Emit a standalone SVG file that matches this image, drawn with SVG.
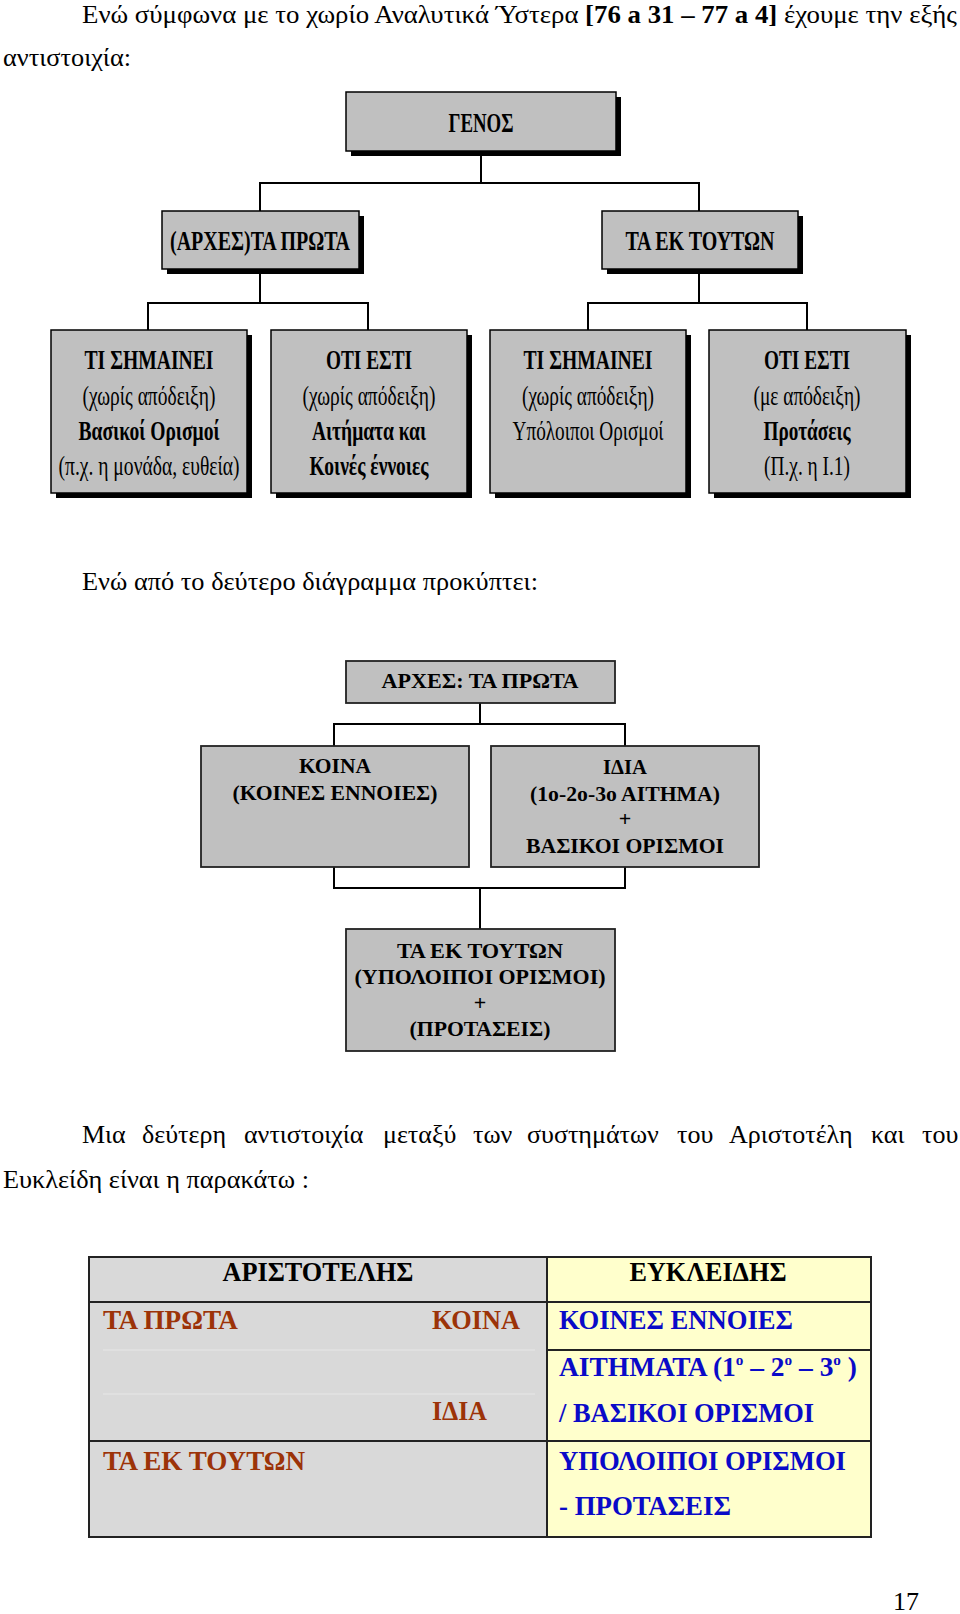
<svg xmlns="http://www.w3.org/2000/svg" width="960" height="1614" viewBox="0 0 960 1614">
<style>
.p{font-family:"Liberation Serif","Times New Roman",serif;font-size:26px;fill:#000}
.b{font-weight:bold}
.t1{font-family:"Liberation Serif","Times New Roman",serif;font-size:28px;fill:#000;text-anchor:middle}
.t2{font-family:"Liberation Serif","Times New Roman",serif;font-size:22px;font-weight:bold;fill:#000;text-anchor:middle}
.tb{font-family:"Liberation Serif","Times New Roman",serif;font-size:27px;font-weight:bold}
.br{fill:#9c3308}
.bl{fill:#0a0ac8}
.box{fill:#c0c0c0;stroke:#000;stroke-width:1.5}
.box2{fill:#c0c0c0;stroke:#222;stroke-width:1.8}
.sh{fill:#000}
.ln{fill:none;stroke:#000;stroke-width:2}
.tl{fill:none;stroke:#222;stroke-width:2}
</style>
<rect width="960" height="1614" fill="#fff"/>

<!-- paragraph 1 -->
<text class="p" x="82" y="23" textLength="875" lengthAdjust="spacingAndGlyphs">Ενώ σύμφωνα με το χωρίο Αναλυτικά Ύστερα <tspan class="b">[76 a 31 – 77 a 4]</tspan> έχουμε την εξής</text>
<text class="p" x="3" y="66" textLength="128" lengthAdjust="spacingAndGlyphs">αντιστοιχία:</text>

<!-- connectors diagram 1 -->
<g id="connectors1">
<path class="ln" d="M481 151V183M260 211V183H699V211"/>
<path class="ln" d="M260 269V303M148 330V303H368V330"/>
<path class="ln" d="M699 269V303M588 330V303H807V330"/>
</g>

<g id="genos">
<rect class="sh" x="351" y="97" width="270" height="59"/>
<rect class="box" x="346" y="92" width="270" height="59"/>
<text class="t1 b" x="481" y="132" textLength="65" lengthAdjust="spacingAndGlyphs">ΓΕΝΟΣ</text>
</g>
<g id="ta-prota">
<rect class="sh" x="167" y="216" width="197" height="58"/>
<rect class="box" x="162" y="211" width="197" height="58"/>
<text class="t1 b" x="260" y="250" textLength="180" lengthAdjust="spacingAndGlyphs">(ΑΡΧΕΣ)ΤΑ ΠΡΩΤΑ</text>
</g>
<g id="ta-ek-touton">
<rect class="sh" x="607" y="216" width="196" height="58"/>
<rect class="box" x="602" y="211" width="196" height="58"/>
<text class="t1 b" x="700" y="250" textLength="149" lengthAdjust="spacingAndGlyphs">ΤΑ ΕΚ ΤΟΥΤΩΝ</text>
</g>
<g id="box1">
<rect class="sh" x="56" y="335" width="196" height="163"/>
<rect class="box" x="51" y="330" width="196" height="163"/>
<text class="t1 b" x="149" y="369" textLength="129" lengthAdjust="spacingAndGlyphs">ΤΙ ΣΗΜΑΙΝΕΙ</text>
<text class="t1" x="149" y="405" textLength="133" lengthAdjust="spacingAndGlyphs">(χωρίς απόδειξη)</text>
<text class="t1 b" x="149" y="440" textLength="141" lengthAdjust="spacingAndGlyphs">Βασικοί Ορισμοί</text>
<text class="t1" x="149" y="475" textLength="181" lengthAdjust="spacingAndGlyphs">(π.χ. η μονάδα, ευθεία)</text>
</g>
<g id="box2">
<rect class="sh" x="276" y="335" width="196" height="163"/>
<rect class="box" x="271" y="330" width="196" height="163"/>
<text class="t1 b" x="369" y="369" textLength="86" lengthAdjust="spacingAndGlyphs">ΟΤΙ ΕΣΤΙ</text>
<text class="t1" x="369" y="405" textLength="133" lengthAdjust="spacingAndGlyphs">(χωρίς απόδειξη)</text>
<text class="t1 b" x="369" y="440" textLength="114" lengthAdjust="spacingAndGlyphs">Αιτήματα και</text>
<text class="t1 b" x="369" y="475" textLength="119" lengthAdjust="spacingAndGlyphs">Κοινές έννοιες</text>
</g>
<g id="box3">
<rect class="sh" x="495" y="335" width="196" height="163"/>
<rect class="box" x="490" y="330" width="196" height="163"/>
<text class="t1 b" x="588" y="369" textLength="129" lengthAdjust="spacingAndGlyphs">ΤΙ ΣΗΜΑΙΝΕΙ</text>
<text class="t1" x="588" y="405" textLength="132" lengthAdjust="spacingAndGlyphs">(χωρίς απόδειξη)</text>
<text class="t1" x="588" y="440" textLength="151" lengthAdjust="spacingAndGlyphs">Υπόλοιποι Ορισμοί</text>
</g>
<g id="box4">
<rect class="sh" x="714" y="335" width="197" height="163"/>
<rect class="box" x="709" y="330" width="197" height="163"/>
<text class="t1 b" x="807" y="369" textLength="86" lengthAdjust="spacingAndGlyphs">ΟΤΙ ΕΣΤΙ</text>
<text class="t1" x="807" y="405" textLength="107" lengthAdjust="spacingAndGlyphs">(με απόδειξη)</text>
<text class="t1 b" x="807" y="440" textLength="87" lengthAdjust="spacingAndGlyphs">Προτάσεις</text>
<text class="t1" x="807" y="475" textLength="86" lengthAdjust="spacingAndGlyphs">(Π.χ. η Ι.1)</text>
</g>

<!-- paragraph 2 -->
<text class="p" x="82" y="590" textLength="456" lengthAdjust="spacingAndGlyphs">Ενώ από το δεύτερο διάγραμμα προκύπτει:</text>

<!-- diagram 2 -->
<g id="connectors2">
<path class="ln" d="M480 703V724M334 746V724H625V746"/>
<path class="ln" d="M334 867V888H625V867M480 888V929"/>
</g>
<g id="arxes">
<rect class="box2" x="346" y="661" width="269" height="42"/>
<text class="t2" x="480" y="688" textLength="197" lengthAdjust="spacingAndGlyphs">ΑΡΧΕΣ: ΤΑ ΠΡΩΤΑ</text>
</g>
<g id="koina">
<rect class="box2" x="201" y="746" width="268" height="121"/>
<text class="t2" x="335" y="773" textLength="72" lengthAdjust="spacingAndGlyphs">ΚΟΙΝΑ</text>
<text class="t2" x="335" y="800" textLength="205" lengthAdjust="spacingAndGlyphs">(ΚΟΙΝΕΣ ΕΝΝΟΙΕΣ)</text>
</g>
<g id="idia">
<rect class="box2" x="491" y="746" width="268" height="121"/>
<text class="t2" x="625" y="774" textLength="44" lengthAdjust="spacingAndGlyphs">ΙΔΙΑ</text>
<text class="t2" x="625" y="801" textLength="190" lengthAdjust="spacingAndGlyphs">(1ο-2ο-3ο ΑΙΤΗΜΑ)</text>
<text class="t2" x="625" y="826">+</text>
<text class="t2" x="625" y="853" textLength="198" lengthAdjust="spacingAndGlyphs">ΒΑΣΙΚΟΙ ΟΡΙΣΜΟΙ</text>
</g>
<g id="ek-touton">
<rect class="box2" x="346" y="929" width="269" height="122"/>
<text class="t2" x="480" y="958" textLength="166" lengthAdjust="spacingAndGlyphs">ΤΑ ΕΚ ΤΟΥΤΩΝ</text>
<text class="t2" x="480" y="984" textLength="251" lengthAdjust="spacingAndGlyphs">(ΥΠΟΛΟΙΠΟΙ ΟΡΙΣΜΟΙ)</text>
<text class="t2" x="480" y="1010">+</text>
<text class="t2" x="480" y="1036" textLength="141" lengthAdjust="spacingAndGlyphs">(ΠΡΟΤΑΣΕΙΣ)</text>
</g>

<!-- paragraph 3 -->
<text class="p" y="1143"><tspan x="82">Μια</tspan><tspan x="142">δεύτερη</tspan><tspan x="244">αντιστοιχία</tspan><tspan x="383">μεταξύ</tspan><tspan x="473">των</tspan><tspan x="527">συστημάτων</tspan><tspan x="677">του</tspan><tspan x="729">Αριστοτέλη</tspan><tspan x="871">και</tspan><tspan x="922">του</tspan></text>
<text class="p" x="3" y="1188" textLength="306" lengthAdjust="spacingAndGlyphs">Ευκλείδη είναι η παρακάτω :</text>

<!-- table -->
<g id="table">
<rect x="89" y="1257" width="458" height="280" fill="#d9d9d9"/>
<rect x="547" y="1257" width="324" height="280" fill="#ffffcc"/>
<path d="M103 1350H535M103 1394H535" stroke="#e2e2e2" stroke-width="1.5"/>
<rect class="tl" x="89" y="1257" width="782" height="280"/>
<path class="tl" d="M547 1257V1537M89 1302H871M547 1350H871M89 1441H871"/>
<text class="tb" x="318" y="1281" text-anchor="middle" textLength="191" lengthAdjust="spacingAndGlyphs">ΑΡΙΣΤΟΤΕΛΗΣ</text>
<text class="tb" x="708" y="1281" text-anchor="middle" textLength="157" lengthAdjust="spacingAndGlyphs">ΕΥΚΛΕΙΔΗΣ</text>
<text class="tb br" x="103" y="1329" textLength="135" lengthAdjust="spacingAndGlyphs">ΤΑ ΠΡΩΤΑ</text>
<text class="tb br" x="432" y="1329" textLength="88" lengthAdjust="spacingAndGlyphs">ΚΟΙΝΑ</text>
<text class="tb br" x="432" y="1420" textLength="55" lengthAdjust="spacingAndGlyphs">ΙΔΙΑ</text>
<text class="tb br" x="103" y="1470" textLength="202" lengthAdjust="spacingAndGlyphs">ΤΑ ΕΚ ΤΟΥΤΩΝ</text>
<text class="tb bl" x="559" y="1329" textLength="234" lengthAdjust="spacingAndGlyphs">ΚΟΙΝΕΣ ΕΝΝΟΙΕΣ</text>
<text class="tb bl" x="559" y="1376" textLength="298" lengthAdjust="spacingAndGlyphs">ΑΙΤΗΜΑΤΑ (1<tspan font-size="15" dy="-11">ο</tspan><tspan dy="11"> – 2</tspan><tspan font-size="15" dy="-11">ο</tspan><tspan dy="11"> – 3</tspan><tspan font-size="15" dy="-11">ο</tspan><tspan dy="11"> )</tspan></text>
<text class="tb bl" x="559" y="1422" textLength="255" lengthAdjust="spacingAndGlyphs">/ ΒΑΣΙΚΟΙ ΟΡΙΣΜΟΙ</text>
<text class="tb bl" x="559" y="1470" textLength="287" lengthAdjust="spacingAndGlyphs">ΥΠΟΛΟΙΠΟΙ ΟΡΙΣΜΟΙ</text>
<text class="tb bl" x="559" y="1515" textLength="172" lengthAdjust="spacingAndGlyphs">- ΠΡΟΤΑΣΕΙΣ</text>
</g>

<text class="p" x="893" y="1610">17</text>
</svg>
